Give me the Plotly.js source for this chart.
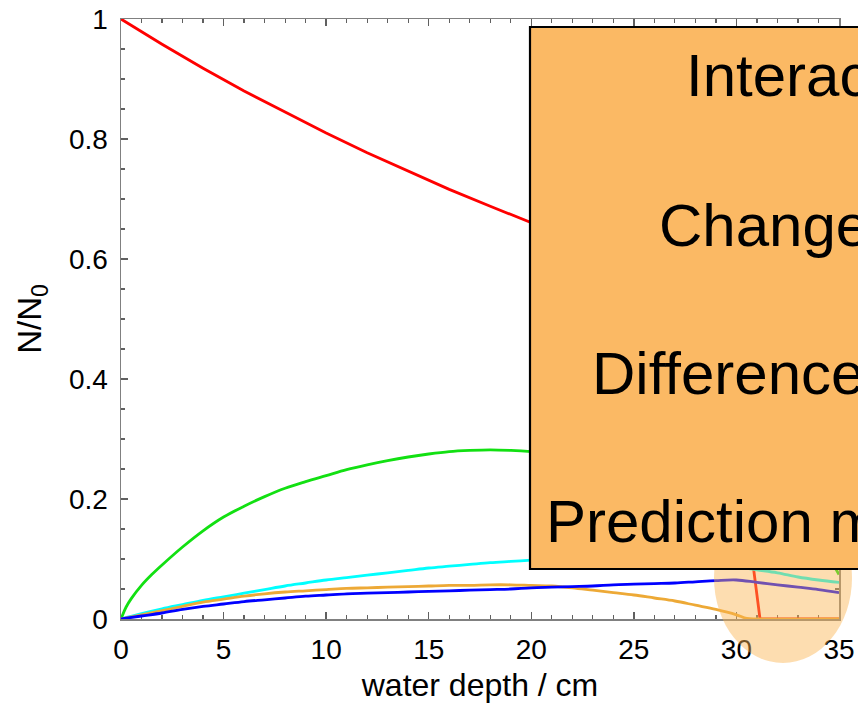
<!DOCTYPE html>
<html>
<head>
<meta charset="utf-8">
<script src="https://cdn.plot.ly/plotly-3.0.1.min.js"></script>
<style>html,body{margin:0;padding:0;background:#fff;}#chart{width:858px;height:706px;}</style>
</head>
<body>
<div id="chart"></div>
<script>
// ---- data ----
const redX   = [0,2,4,6,8,10,12,14,16,18,20,22,24,26,28,29,29.6,30.1,30.5,30.85,31.15,35];
const redY   = [1,0.958,0.918,0.88,0.845,0.81,0.777,0.746,0.716,0.688,0.66,0.633,0.607,0.582,0.556,0.54,0.5,0.4,0.25,0.08,0,0];

const greenX = [0,0.25,0.5,1,1.5,2,3,4,5,6,7,8,9,10,11,12,13,14,15,16,17,18,19,20,21,22,24,26,28,30,32,34,34.6,35];
const greenY = [0,0.02,0.034,0.056,0.074,0.09,0.12,0.147,0.17,0.188,0.204,0.218,0.229,0.239,0.249,0.257,0.264,0.27,0.275,0.279,0.281,0.282,0.281,0.279,0.276,0.271,0.26,0.245,0.222,0.19,0.15,0.11,0.095,0.074];

const cyanX  = [0,1,2,3,4,5,6,7,8,9,10,11,12,13,14,15,16,17,18,19,20,21,22,24,26,28,30,31,32,33,34,35];
const cyanY  = [0,0.009,0.017,0.024,0.031,0.037,0.043,0.049,0.055,0.06,0.065,0.069,0.073,0.077,0.081,0.085,0.088,0.091,0.094,0.096,0.098,0.1,0.101,0.102,0.1,0.095,0.087,0.082,0.077,0.07,0.065,0.061];

const blueX  = [0,1,2,3,4,5,6,7,8,9,10,11,12,13,14,15,16,17,18,19,20,21,22,23,24,25,26,27,28,29,30,31,32,33,34,35];
const blueY  = [0,0.005,0.01,0.016,0.021,0.025,0.029,0.032,0.035,0.038,0.04,0.042,0.043,0.044,0.045,0.046,0.047,0.048,0.049,0.05,0.052,0.053,0.054,0.055,0.057,0.058,0.059,0.06,0.062,0.064,0.065,0.061,0.057,0.053,0.049,0.044];

const orangeX = [0,1,2,3,4,5,6,7,8,9,10,11,12,13,14,15,16,17,18,19,20,21,22,23,24,25,26,27,28,29,30,30.5,31,35];
const orangeY = [0,0.007,0.014,0.021,0.028,0.033,0.038,0.042,0.045,0.047,0.049,0.051,0.052,0.053,0.054,0.055,0.056,0.056,0.057,0.057,0.056,0.055,0.052,0.048,0.044,0.04,0.035,0.03,0.023,0.016,0.007,0.001,0,0];

const boxLines = ["Interaction", "Change", "Difference", "Prediction model"];

const xTitle = "water depth / cm";
const yTitle = "N/N<sub>0</sub>";

// ---- styling ----
const FONT = "Liberation Sans, Arial, Helvetica, sans-serif";
const LW = 2.8;

function tr(x, y, color, shape) {
  return {x: x, y: y, type: "scatter", mode: "lines",
          line: {color: color, width: LW, shape: shape, smoothing: 1},
          hoverinfo: "skip", showlegend: false};
}

const data = [
  tr(redX, redY, "#ff0000", "linear"),
  tr(greenX, greenY, "#12e012", "spline"),
  tr(cyanX, cyanY, "#00ffff", "spline"),
  tr(orangeX, orangeY, "#eda936", "spline"),
  tr(blueX, blueY, "#0000ff", "spline")
];

const axisCommon = {
  showgrid: false, zeroline: false,
  showline: true, linecolor: "#808080", linewidth: 1.5,
  mirror: "ticks", ticks: "inside", ticklen: 7, tickwidth: 1.3, tickcolor: "#606060",
  tickfont: {family: FONT, size: 28, color: "#000"},
  layer: "below traces"
};

const plotL = 121, plotR = 839, plotT = 19, plotB = 619;
const px = p => (p - plotL) / (plotR - plotL);
const py = p => (plotB - p) / (plotB - plotT);

const annX = [684, 657, 590, 544];
const annY = [75, 226, 373, 521];

const annotations = boxLines.map((t, i) => ({
  text: t, xref: "paper", yref: "paper", x: px(annX[i]), y: py(annY[i]),
  xanchor: "left", yanchor: "middle", showarrow: false,
  font: {family: FONT, size: 60, color: "#000"}
}));

const layout = {
  width: 858, height: 706,
  margin: {l: plotL, r: 858 - plotR, t: plotT, b: 706 - plotB, pad: 0},
  paper_bgcolor: "#fff", plot_bgcolor: "#fff",
  xaxis: Object.assign({}, axisCommon, {
    range: [0, 35], tickvals: [0,5,10,15,20,25,30,35], ticklabelstandoff: 5,
    minor: {dtick: 1, ticks: "inside", ticklen: 4, tickcolor: "#606060", tickwidth: 1.2},
    title: {text: xTitle, font: {family: FONT, size: 32, color: "#000"}, standoff: 9}
  }),
  yaxis: Object.assign({}, axisCommon, {
    range: [0, 1], tickvals: [0,0.2,0.4,0.6,0.8,1], ticklabelstandoff: 6,
    minor: {dtick: 0.05, ticks: "inside", ticklen: 4, tickcolor: "#606060", tickwidth: 1.2},
    title: {text: yTitle, font: {family: FONT, size: 33, color: "#000"}, standoff: 17}
  }),
  shapes: [
    {type: "circle", xref: "paper", yref: "paper", layer: "above",
     x0: px(783 - 69), x1: px(783 + 69), y0: py(578 + 85), y1: py(578 - 85),
     fillcolor: "rgb(250,180,80)", opacity: 0.45, line: {width: 0}},
    {type: "rect", xref: "paper", yref: "paper", layer: "above",
     x0: px(530), x1: px(900), y0: py(569), y1: py(27),
     fillcolor: "#fbb964", line: {color: "#000", width: 2.2}}
  ],
  annotations: annotations,
  showlegend: false
};

Plotly.newPlot("chart", data, layout, {staticPlot: true, displayModeBar: false});
</script>
</body>
</html>
